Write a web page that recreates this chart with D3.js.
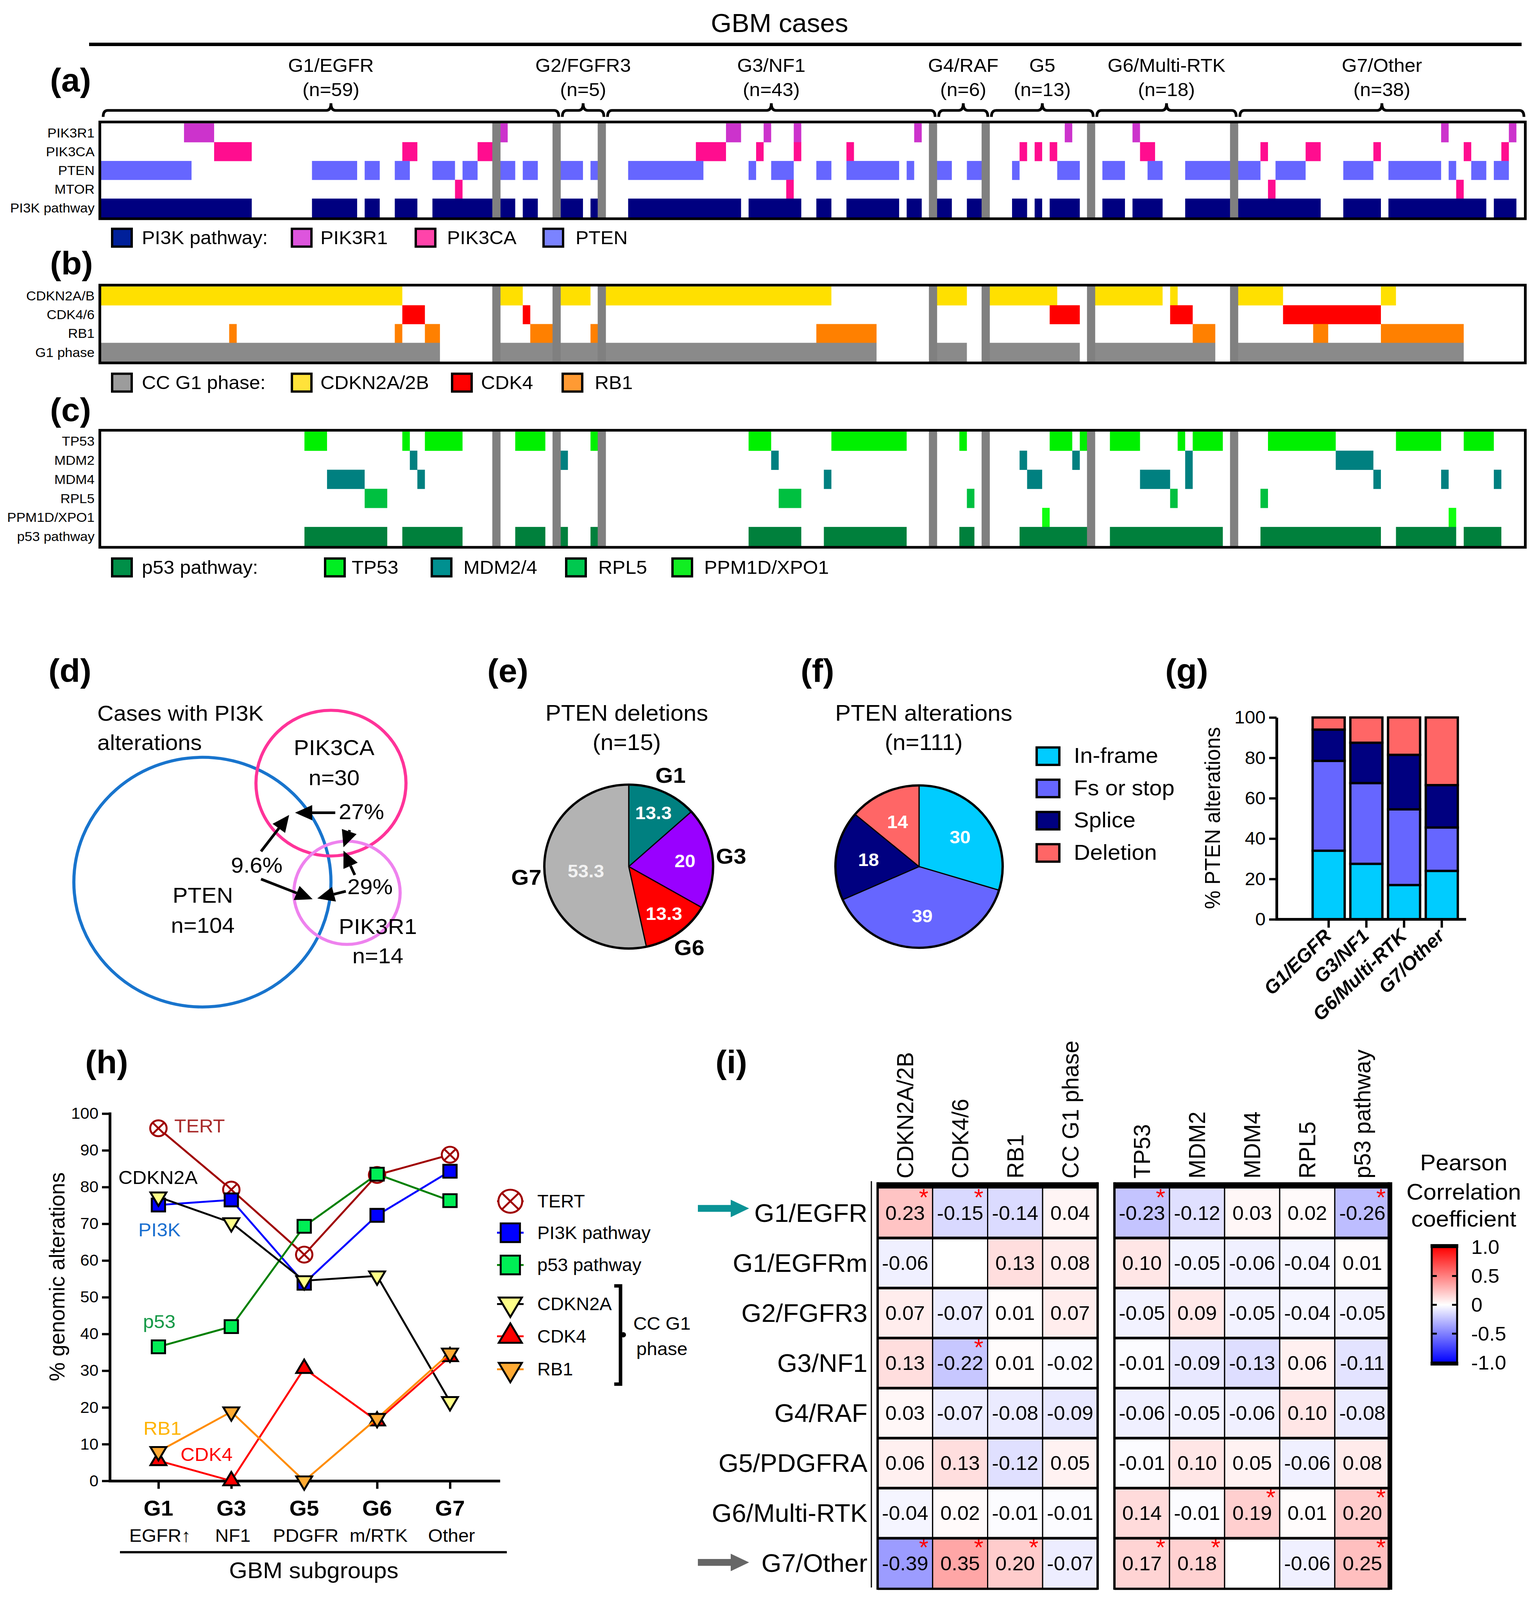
<!DOCTYPE html>
<html>
<head>
<meta charset="utf-8">
<script src="https://cdn.jsdelivr.net/npm/d3@7/dist/d3.min.js"></script>
<style>
  html, body { margin: 0; padding: 0; background: #fff; overflow: hidden; }
  #fig { display: block; width: 100vw; height: 100vh; }
  svg text { font-family: "Liberation Sans", Arial, Helvetica, sans-serif; }
</style>
</head>
<body>
<svg id="fig"></svg>
<script>
// ---------------- data ----------------

// (a-c) oncoprint: one column per case, grey separator columns between subgroups
const groupNames = ["G1/EGFR", "G2/FGFR3", "G3/NF1", "G4/RAF", "G5", "G6/Multi-RTK", "G7/Other"];
const groupN     = [59, 5, 43, 6, 13, 18, 38];
const sepCols    = [52, 60, 66, 110, 117, 131, 150];   // 52 splits G1/EGFR from G1/EGFRm
const nCols      = 189;

// altered cases, as [first, last] column runs
const pik3r1Runs = [[11,14],[53,53],[83,84],[88,88],[92,92],[108,108],[128,128],[137,137],[178,178],[187,187]];
const pik3caRuns = [[15,19],[40,41],[50,51],[79,82],[87,87],[92,92],[99,99],[122,122],[124,124],[126,126],[138,139],[154,154],[160,161],[169,169],[181,181],[186,186]];
const ptenRuns   = [[0,11],[28,33],[35,36],[39,40],[44,46],[48,49],[53,54],[56,57],[61,63],[65,65],[70,79],[86,86],[89,91],[95,96],[99,105],[107,107],[111,112],[115,116],[121,121],[127,129],[133,135],[139,140],[144,149],[151,153],[156,159],[165,168],[171,177],[179,179],[182,183],[185,186]];
const mtorRuns   = [[47,47],[91,91],[155,155],[180,180]];
const pi3kRuns   = [[0,19],[28,33],[35,36],[39,41],[44,51],[53,54],[56,57],[61,63],[65,65],[70,84],[86,92],[95,96],[99,105],[107,108],[111,112],[115,116],[121,122],[124,124],[126,129],[133,135],[137,140],[144,149],[151,161],[165,169],[171,183],[185,187]];

const cdkn2aRuns = [[0,39],[53,55],[61,64],[67,96],[111,114],[118,126],[132,140],[142,142],[151,156],[170,171]];
const cdk46Runs  = [[40,42],[56,56],[126,129],[142,144],[157,169]];
const rb1Runs    = [[17,17],[39,39],[43,44],[57,59],[65,65],[95,102],[145,147],[161,162],[170,180]];
const g1phRuns   = [[0,44],[53,102],[111,114],[118,129],[132,147],[151,180]];

const tp53Runs   = [[27,29],[40,40],[43,47],[55,58],[65,65],[86,88],[97,106],[114,114],[126,128],[130,130],[134,137],[143,143],[145,148],[155,163],[172,177],[181,184]];
const mdm2Runs   = [[41,41],[61,61],[89,89],[122,122],[129,129],[144,144],[164,168]];
const mdm4Runs   = [[30,34],[42,42],[96,96],[123,124],[138,141],[144,144],[169,169],[178,178],[185,185]];
const rpl5Runs   = [[35,37],[90,92],[115,115],[142,142],[154,154]];
const ppm1dRuns  = [[125,125],[179,179]];
const p53Runs    = [[27,37],[40,47],[55,58],[61,61],[65,65],[86,92],[96,106],[114,115],[122,130],[134,148],[154,169],[172,179],[181,185]];

// (d) Venn
const vennSets = ["PTEN", "PIK3CA", "PIK3R1"];
const vennN    = [104, 30, 14];
const vennPct  = ["27%", "29%", "9.6%"];

// (e) PTEN deletions by subgroup (%)
const delGroups = ["G1", "G3", "G6", "G7"];
const delPct    = [13.3, 20, 13.3, 53.3];

// (f) PTEN alteration types (%)
const altTypes = ["In-frame", "Fs or stop", "Splice", "Deletion"];
const altPct   = [30, 39, 18, 14];

// (g) % PTEN alterations per subgroup (stacked)
const gGroups  = ["G1/EGFR", "G3/NF1", "G6/Multi-RTK", "G7/Other"];
const gInFrame = [34, 27.5, 17, 24];
const gFsStop  = [44.5, 40, 37.5, 21.5];
const gSplice  = [15.5, 20, 27, 21];
const gDel     = [6, 12.5, 18.5, 33.5];

// (h) % genomic alterations
const hCats   = ["G1", "G3", "G5", "G6", "G7"];
const hSub    = ["EGFR\u2191", "NF1", "PDGFR", "m/RTK", "Other"];
const hTert   = [96, 79.3, 61.6, 83.3, 88.8];
const hPi3k   = [75.1, 76.5, 53.8, 72.3, 84.3];
const hP53    = [36.5, 42, 69.3, 83.5, 76.3];
const hCdkn2a = [77.3, 70.3, 54.5, 55.8, 21.6];
const hCdk4   = [5.5, 0, 30.6, 16.3, 33.8];
const hRb1    = [8, 18.8, 0, 17, 34.8];

// (i) Pearson correlation
const heatRows = ["G1/EGFR", "G1/EGFRm", "G2/FGFR3", "G3/NF1", "G4/RAF", "G5/PDGFRA", "G6/Multi-RTK", "G7/Other"];
const ccCols   = ["CDKN2A/2B", "CDK4/6", "RB1", "CC G1 phase"];
const p53Cols  = ["TP53", "MDM2", "MDM4", "RPL5", "p53 pathway"];
const ccR = [
  [0.23, -0.15, -0.14, 0.04],
  [-0.06, null, 0.13, 0.08],
  [0.07, -0.07, 0.01, 0.07],
  [0.13, -0.22, 0.01, -0.02],
  [0.03, -0.07, -0.08, -0.09],
  [0.06, 0.13, -0.12, 0.05],
  [-0.04, 0.02, -0.01, -0.01],
  [-0.39, 0.35, 0.20, -0.07]];
const ccSig = [[1,1,0,0],[0,0,0,0],[0,0,0,0],[0,1,0,0],[0,0,0,0],[0,0,0,0],[0,0,0,0],[1,1,1,0]];
const p53R = [
  [-0.23, -0.12, 0.03, 0.02, -0.26],
  [0.10, -0.05, -0.06, -0.04, 0.01],
  [-0.05, 0.09, -0.05, -0.04, -0.05],
  [-0.01, -0.09, -0.13, 0.06, -0.11],
  [-0.06, -0.05, -0.06, 0.10, -0.08],
  [-0.01, 0.10, 0.05, -0.06, 0.08],
  [0.14, -0.01, 0.19, 0.01, 0.20],
  [0.17, 0.18, null, -0.06, 0.25]];
const p53Sig = [[1,0,0,0,1],[0,0,0,0,0],[0,0,0,0,0],[0,0,0,0,0],[0,0,0,0,0],[0,0,0,0,0],[0,0,1,0,1],[1,1,0,0,1]];
const cbTicks = [1, 0.5, 0, -0.5, -1];

// ---------------- drawing ----------------
// figure frame is 3936 x 4217; stretched onto whatever viewport the page gets
const W = 3936, H = 4217;
const svg = d3.select("#fig").attr("viewBox", `0 0 ${W} ${H}`).attr("preserveAspectRatio", "none");
svg.append("rect").attr("width", W).attr("height", H).attr("fill", "#fff");

// plain hyphen for negatives, as in the figure
const minus = s => String(s).replace("\u2212", "-");

function label(g, x, y, s, size, o) {
  o = o || {};
  return g.append("text")
    .attr("x", x).attr("y", y)
    .attr("font-size", size)
    .attr("font-weight", o.bold ? "bold" : "normal")
    .attr("font-style", o.italic ? "italic" : "normal")
    .attr("text-anchor", o.anchor || "start")
    .attr("fill", o.fill || "#000")
    .text(s);
}

// panel letters
[["(a)",128,241],["(b)",128,724],["(c)",128,1110],["(d)",124,1798],["(e)",1247,1798],
 ["(f)",2049,1798],["(g)",2982,1798],["(h)",218,2829],["(i)",1831,2829]]
  .forEach(p => label(svg, p[1], p[2], p[0], 86, {bold: true}));

// ---- oncoprint header ----
const xc = d3.scaleLinear().domain([0, nCols]).range([259, 3900]);

let col = 0;
const groups = groupNames.map((name, i) => {
  const width = groupN[i] + (i === 0 ? 1 : 0);   // G1 holds the EGFR/EGFRm separator
  const g = {name, n: groupN[i], start: col, end: col + width - 1};
  col += width + 1;
  return g;
});

label(svg, 1995, 84, "GBM cases", 68, {anchor: "middle"});
svg.append("line").attr("x1", 228).attr("x2", 3894).attr("y1", 117).attr("y2", 117)
  .attr("stroke", "#000").attr("stroke-width", 9);

const gHead = svg.append("g");
groups.forEach(g => {
  const b1 = xc(g.start) + 5, b2 = Math.min(xc(g.end + 1) + 15, xc(nCols)), m = (b1 + b2) / 2;
  gHead.append("path")
    .attr("d", `M${b1},308 Q${b1},291 ${b1+12},291 L${m-12},291 Q${m},291 ${m},272 Q${m},291 ${m+12},291 L${b2-12},291 Q${b2},291 ${b2},308`)
    .attr("fill", "none").attr("stroke", "#000").attr("stroke-width", 7);
  label(gHead, m, 189, g.name, 50, {anchor: "middle"});
  label(gHead, m, 253, `(n=${g.n})`, 50, {anchor: "middle"});
});

function trackPanel(top, bottom, tracks) {
  const g = svg.append("g");
  const yb = d3.scaleBand().domain(tracks.map(t => t.row)).range([top, bottom]);
  tracks.forEach(t => {
    g.selectAll(null).data(t.runs).enter().append("rect")
      .attr("x", d => xc(d[0]))
      .attr("width", d => xc(d[1] + 1) - xc(d[0]))
      .attr("y", yb(t.row)).attr("height", yb.bandwidth() + 0.5)
      .attr("fill", t.color);
    label(g, 242, yb(t.row) + yb.bandwidth() / 2, t.row, 35, {anchor: "end"}).attr("dy", "0.35em");
  });
  g.selectAll(null).data(sepCols).enter().append("rect")
    .attr("x", d => xc(d + 0.5) - 10.5).attr("width", 21)
    .attr("y", top - 3).attr("height", bottom - top + 6)
    .attr("fill", "#808080");
  g.append("rect")
    .attr("x", xc(0) - 3.5).attr("y", top - 3.5)
    .attr("width", xc(nCols) - xc(0) + 7).attr("height", bottom - top + 7)
    .attr("fill", "none").attr("stroke", "#000").attr("stroke-width", 7);
}

function legendRow(y, items) {
  const g = svg.append("g");
  items.forEach(it => {
    g.append("rect").attr("x", it[2] + 3).attr("y", y + 3).attr("width", 50).attr("height", 47)
      .attr("fill", it[1]).attr("stroke", "#000").attr("stroke-width", 6);
    label(g, it[3], y + 43, it[0], 50);
  });
}

trackPanel(325, 573, [
  {row: "PIK3R1", runs: pik3r1Runs, color: "#cc33cc"},
  {row: "PIK3CA", runs: pik3caRuns, color: "#ff0d8f"},
  {row: "PTEN", runs: ptenRuns, color: "#6666ff"},
  {row: "MTOR", runs: mtorRuns, color: "#ff0d8f"},
  {row: "PI3K pathway", runs: pi3kRuns, color: "#000080"}]);
legendRow(600, [["PI3K pathway:", "#00209a", 284, 363], ["PIK3R1", "#dd55dd", 744, 820],
                ["PIK3CA", "#ff44aa", 1061, 1144], ["PTEN", "#7b83ff", 1388, 1473]]);

trackPanel(755, 953, [
  {row: "CDKN2A/B", runs: cdkn2aRuns, color: "#ffe000"},
  {row: "CDK4/6", runs: cdk46Runs, color: "#ff0000"},
  {row: "RB1", runs: rb1Runs, color: "#ff8000"},
  {row: "G1 phase", runs: g1phRuns, color: "#8a8a8a"}]);
legendRow(982, [["CC G1 phase:", "#9c9c9c", 284, 363], ["CDKN2A/2B", "#ffe23a", 744, 820],
                ["CDK4", "#ff0000", 1154, 1231], ["RB1", "#ff9a33", 1437, 1522]]);

trackPanel(1137.5, 1439, [
  {row: "TP53", runs: tp53Runs, color: "#00f000"},
  {row: "MDM2", runs: mdm2Runs, color: "#008080"},
  {row: "MDM4", runs: mdm4Runs, color: "#008080"},
  {row: "RPL5", runs: rpl5Runs, color: "#00c040"},
  {row: "PPM1D/XPO1", runs: ppm1dRuns, color: "#11ff11"},
  {row: "p53 pathway", runs: p53Runs, color: "#00803c"}]);
legendRow(1469, [["p53 pathway:", "#008f48", 284, 363], ["TP53", "#00ee22", 829, 900],
                 ["MDM2/4", "#009090", 1102, 1186], ["RPL5", "#00c84f", 1446, 1531],
                 ["PPM1D/XPO1", "#11ee22", 1718, 1802]]);

// ---- (d) Venn ----
const gD = svg.append("g");
const vennGeom = {
  PTEN:   {cx: 518, cy: 2325, r: 329, color: "#1874cd", nameXY: [519, 2379], nXY: [519, 2459]},
  PIK3CA: {cx: 847, cy: 2064, r: 192, color: "#ff3399", nameXY: [855, 1990], nXY: [855, 2069]},
  PIK3R1: {cx: 888, cy: 2353, r: 136, color: "#ee82ee", nameXY: [967, 2462], nXY: [967, 2539]}
};
label(gD, 249, 1899, "Cases with PI3K", 58);
label(gD, 249, 1977, "alterations", 58);
vennSets.forEach((s, i) => {
  const v = vennGeom[s];
  gD.append("circle").attr("cx", v.cx).attr("cy", v.cy).attr("r", v.r)
    .attr("fill", "none").attr("stroke", v.color).attr("stroke-width", 8);
  label(gD, v.nameXY[0], v.nameXY[1], s, 58, {anchor: "middle"});
  label(gD, v.nXY[0], v.nXY[1], `n=${vennN[i]}`, 58, {anchor: "middle"});
});
label(gD, 867, 2159, vennPct[0], 58);
label(gD, 889, 2357, vennPct[1], 58);
label(gD, 657, 2300, vennPct[2], 58, {anchor: "middle"});
const vennArrows = [[858,2142,755,2142],[895,2188,879,2233],[908,2306,879,2242],
                    [885,2349,812,2368],[668,2244,740,2148],[668,2317,800,2370]];
vennArrows.forEach(a => {
  const ang = Math.atan2(a[3] - a[1], a[2] - a[0]);
  const L = 44, hw = 20;
  const bx = a[2] - L * Math.cos(ang), by = a[3] - L * Math.sin(ang);
  gD.append("line").attr("x1", a[0]).attr("y1", a[1]).attr("x2", bx).attr("y2", by)
    .attr("stroke", "#000").attr("stroke-width", 7);
  const px = -Math.sin(ang) * hw, py = Math.cos(ang) * hw;
  gD.append("path")
    .attr("d", `M${a[2]},${a[3]} L${bx + px},${by + py} L${bx - px},${by - py} Z`)
    .attr("fill", "#000");
});

// ---- (e) PTEN deletions pie ----
const gE = svg.append("g").attr("transform", "translate(1609,2284)");
const rE = 216;
const arcsE = d3.pie().sort(null).value(d => d.v)(delGroups.map((g, i) => ({g, v: delPct[i]})));
const eColors = ["#008080", "#9900ff", "#ff0000", "#b3b3b3"];
const eLabR = [0.72, 0.67, 0.71, 0.51];
label(svg, 1604, 1899, "PTEN deletions", 60, {anchor: "middle"});
label(svg, 1604, 1977, "(n=15)", 60, {anchor: "middle"});
gE.selectAll(null).data(arcsE).enter().append("path")
  .attr("d", d3.arc().innerRadius(0).outerRadius(rE))
  .attr("fill", (d, i) => eColors[i]).attr("stroke", "#000").attr("stroke-width", 3);
gE.append("circle").attr("r", rE).attr("fill", "none").attr("stroke", "#000").attr("stroke-width", 6);
arcsE.forEach((d, i) => {
  const c = d3.arc().innerRadius(rE * eLabR[i]).outerRadius(rE * eLabR[i]).centroid(d);
  label(gE, c[0], c[1], d3.format(".3~")(d.data.v), 48, {bold: true, anchor: "middle",
        fill: i === 3 ? "#f2f2f2" : "#fff"}).attr("dy", "0.35em");
  const o = d3.arc().innerRadius(rE * 1.22).outerRadius(rE * 1.22).centroid(d);
  label(gE, o[0], o[1], d.data.g, 58, {bold: true, anchor: "middle"}).attr("dy", "0.35em");
});

// ---- (f) PTEN alterations pie ----
const gF = svg.append("g").attr("transform", "translate(2352,2284)");
const rF = 214;
const fColors = ["#00ccff", "#6666ff", "#000080", "#ff6666"];
const arcsF = d3.pie().sort(null).value(d => d.v)(altTypes.map((t, i) => ({t, v: altPct[i]})));
label(svg, 2364, 1899, "PTEN alterations", 60, {anchor: "middle"});
label(svg, 2364, 1977, "(n=111)", 60, {anchor: "middle"});
gF.selectAll(null).data(arcsF).enter().append("path")
  .attr("d", d3.arc().innerRadius(0).outerRadius(rF))
  .attr("fill", (d, i) => fColors[i]).attr("stroke", "#000").attr("stroke-width", 3);
gF.append("circle").attr("r", rF).attr("fill", "none").attr("stroke", "#000").attr("stroke-width", 6);
arcsF.forEach(d => {
  const c = d3.arc().innerRadius(rF * 0.61).outerRadius(rF * 0.61).centroid(d);
  label(gF, c[0], c[1], d.data.v, 48, {bold: true, anchor: "middle", fill: "#fff"}).attr("dy", "0.35em");
});
const gFl = svg.append("g");
altTypes.forEach((t, i) => {
  const y = 1967 + i * 85;
  gFl.append("rect").attr("x", 2653).attr("y", y + 3).attr("width", 58).attr("height", 46)
    .attr("fill", fColors[i]).attr("stroke", "#000").attr("stroke-width", 6);
  label(gFl, 2748, y + 44, t, 58);
});

// ---- (g) stacked bars ----
const gG = svg.append("g");
const gy = d3.scaleLinear().domain([0, 100]).range([2423, 1891]);
const gx = d3.scaleBand().domain(gGroups).range([3352, 3738]).paddingInner(0.15).paddingOuter(0.075);
const gTable = gGroups.map((g, i) => ({g, inFrame: gInFrame[i], fsStop: gFsStop[i], splice: gSplice[i], del: gDel[i]}));
const stackG = d3.stack().keys(["inFrame", "fsStop", "splice", "del"])(gTable);
stackG.forEach((layer, k) => {
  gG.selectAll(null).data(layer).enter().append("rect")
    .attr("x", d => gx(d.data.g)).attr("width", gx.bandwidth())
    .attr("y", d => gy(d[1])).attr("height", d => gy(d[0]) - gy(d[1]))
    .attr("fill", fColors[k]).attr("stroke", "#000").attr("stroke-width", 6);
});
const yAxG = gG.append("g").attr("transform", "translate(3267,0)")
  .call(d3.axisLeft(gy).tickValues([0, 20, 40, 60, 80, 100]).tickSize(19).tickSizeOuter(0).tickPadding(9));
yAxG.select(".domain").attr("stroke-width", 7);
yAxG.selectAll(".tick line").attr("stroke-width", 6);
yAxG.selectAll(".tick text").attr("font-size", 48);
gG.append("line").attr("x1", 3264).attr("x2", 3752).attr("y1", gy(0)).attr("y2", gy(0))
  .attr("stroke", "#000").attr("stroke-width", 7);
gGroups.forEach(g => {
  const cx = gx(g) + gx.bandwidth() / 2;
  gG.append("line").attr("x1", cx).attr("x2", cx).attr("y1", gy(0)).attr("y2", gy(0) + 22)
    .attr("stroke", "#000").attr("stroke-width", 6);
  label(gG, cx + 10, 2470, g, 50, {bold: true, italic: true, anchor: "end"})
    .attr("transform", `rotate(-45,${cx + 10},2470)`);
});
label(gG, 3103, 2156, "% PTEN alterations", 55, {anchor: "middle"})
  .attr("transform", "rotate(-90,3103,2156)").attr("dy", "0.35em");

// ---- (h) line chart ----
const gH = svg.append("g");
const hx = d3.scalePoint().domain(hCats).range([281, 1276]).padding(0.667);
const hy = d3.scaleLinear().domain([0, 100]).range([3903, 2935]);
const yAxH = gH.append("g").attr("transform", "translate(281,0)")
  .call(d3.axisLeft(hy).tickValues(d3.range(0, 101, 10)).tickSize(20).tickSizeOuter(0).tickPadding(9));
const xAxH = gH.append("g").attr("transform", "translate(0,3903)")
  .call(d3.axisBottom(hx).tickSize(21).tickSizeOuter(0).tickFormat(""));
[yAxH, xAxH].forEach(a => {
  a.select(".domain").attr("stroke-width", 7).attr("stroke-linecap", "square");
  a.selectAll(".tick line").attr("stroke-width", 6);
  a.selectAll(".tick text").attr("font-size", 42);
});
label(gH, 145, 3365, "% genomic alterations", 56, {anchor: "middle"})
  .attr("transform", "rotate(-90,145,3365)").attr("dy", "0.35em");

const series = [
  {name: "TERT", vals: hTert, line: "#a00000", mark: "tert"},
  {name: "PI3K pathway", vals: hPi3k, line: "#0000ff", mark: "square", fill: "#0000ff"},
  {name: "p53 pathway", vals: hP53, line: "#008000", mark: "square", fill: "#00ee55"},
  {name: "CDKN2A", vals: hCdkn2a, line: "#000000", mark: "down", fill: "#ffff88"},
  {name: "CDK4", vals: hCdk4, line: "#ff0000", mark: "up", fill: "#ff0000"},
  {name: "RB1", vals: hRb1, line: "#ff8c00", mark: "down", fill: "#ffaa33"}
];

function drawMark(g, s, x, y, k) {
  if (s.mark === "tert") {
    const r = 21 * k, q = r * 0.7;
    g.append("circle").attr("cx", x).attr("cy", y).attr("r", r)
      .attr("fill", "#fff").attr("stroke", s.line).attr("stroke-width", 5);
    g.append("path").attr("d", `M${x-q},${y-q}L${x+q},${y+q}M${x-q},${y+q}L${x+q},${y-q}`)
      .attr("stroke", s.line).attr("stroke-width", 5);
  } else if (s.mark === "square") {
    g.append("path").attr("d", d3.symbol(d3.symbolSquare, 1156 * k * k)())
      .attr("transform", `translate(${x},${y})`)
      .attr("fill", s.fill).attr("stroke", "#000").attr("stroke-width", 5);
  } else {
    g.append("path").attr("d", d3.symbol(d3.symbolTriangle, 720 * k * k)())
      .attr("transform", `translate(${x},${y})` + (s.mark === "down" ? " rotate(180)" : ""))
      .attr("fill", s.fill).attr("stroke", "#000").attr("stroke-width", 5);
  }
}

const lineH = d3.line().x((d, i) => hx(hCats[i])).y(d => hy(d));
series.forEach(s => {
  gH.append("path").attr("d", lineH(s.vals)).attr("fill", "none")
    .attr("stroke", s.line).attr("stroke-width", 5);
  s.vals.forEach((v, i) => drawMark(gH, s, hx(hCats[i]), hy(v), 1));
});

// in-plot series names
[["TERT", 446, 2985, "#a82a2a"], ["CDKN2A", 303, 3121, "#000"], ["PI3K", 354, 3259, "#1a6fd0"],
 ["p53", 366, 3500, "#159947"], ["RB1", 367, 3781, "#ffb300"], ["CDK4", 462, 3851, "#ff0000"]]
  .forEach(t => label(gH, t[1], t[2], t[0], 50, {fill: t[3]}));

// legend
const hLegY = [3166, 3249, 3334, 3437, 3522, 3609];
series.forEach((s, i) => {
  const y = hLegY[i];
  gH.append("line").attr("x1", 1272).attr("x2", 1340).attr("y1", y).attr("y2", y)
    .attr("stroke", s.line).attr("stroke-width", 5);
  drawMark(gH, s, 1306, y, 1.45);
  label(gH, 1375, y, s.name, 47).attr("dy", "0.35em");
});
gH.append("path").attr("d", "M1572,3389 H1588 V3648 H1572")
  .attr("fill", "none").attr("stroke", "#000").attr("stroke-width", 9);
gH.append("circle").attr("cx", 1595).attr("cy", 3518).attr("r", 7).attr("fill", "#000");
label(gH, 1694, 3505, "CC G1", 48, {anchor: "middle"});
label(gH, 1694, 3571, "phase", 48, {anchor: "middle"});

hCats.forEach((c, i) => {
  label(gH, hx(c), 3995, c, 57, {bold: true, anchor: "middle"});
  label(gH, hx(c) + 4, 4064, hSub[i], 48, {anchor: "middle"});
});
gH.append("line").attr("x1", 307).attr("x2", 1297).attr("y1", 4091).attr("y2", 4091)
  .attr("stroke", "#000").attr("stroke-width", 6);
label(gH, 803, 4159, "GBM subgroups", 60, {anchor: "middle"});

// ---- (i) heatmap ----
const gI = svg.append("g");
const color = d3.scaleLinear().domain([-1, 0, 1]).range(["#0000ff", "#ffffff", "#ff0000"]);
const yr = d3.scaleBand().domain(heatRows).range([3131, 4186]);
const fmt = v => minus(d3.format(".2f")(v));

function heatBlock(cols, vals, sig, x0, x1, rightW) {
  const xb = d3.scaleBand().domain(cols).range([x0, x1]);
  heatRows.forEach((r, i) => {
    cols.forEach((c, j) => {
      const v = vals[i][j];
      gI.append("rect").attr("x", xb(c)).attr("y", yr(r))
        .attr("width", xb.bandwidth()).attr("height", yr.bandwidth())
        .attr("fill", v === null ? "#fff" : color(v)).attr("stroke", "#000").attr("stroke-width", 3);
      if (v !== null)
        label(gI, xb(c) + xb.bandwidth() / 2, yr(r) + yr.bandwidth() / 2, fmt(v), 52, {anchor: "middle"})
          .attr("dy", "0.35em");
      if (sig[i][j])
        label(gI, xb(c) + xb.bandwidth() - 23, yr(r) + 46, "*", 62, {anchor: "middle", fill: "#ff0000"});
    });
    if (i > 0)
      gI.append("line").attr("x1", x0).attr("x2", x1).attr("y1", yr(r)).attr("y2", yr(r))
        .attr("stroke", "#000").attr("stroke-width", 7);
  });
  cols.forEach(c => {
    const cx = xb(c) + xb.bandwidth() / 2;
    label(gI, cx, 3106, c, 60).attr("transform", `rotate(-90,${cx},3106)`).attr("dy", "0.35em");
  });
  gI.append("rect").attr("x", x0).attr("y", 3116).attr("width", x1 - x0).attr("height", 15).attr("fill", "#000");
  gI.append("line").attr("x1", x0).attr("x2", x1).attr("y1", 4188).attr("y2", 4188)
    .attr("stroke", "#000").attr("stroke-width", 5);
  gI.append("line").attr("x1", x0).attr("x2", x0).attr("y1", 3116).attr("y2", 4190)
    .attr("stroke", "#000").attr("stroke-width", 6);
  gI.append("line").attr("x1", x1).attr("x2", x1).attr("y1", 3116).attr("y2", 4190)
    .attr("stroke", "#000").attr("stroke-width", rightW);
}
heatBlock(ccCols, ccR, ccSig, 2246, 2809, 6);
heatBlock(p53Cols, p53R, p53Sig, 2852, 3557, 12);
gI.append("line").attr("x1", 2230).attr("x2", 2230).attr("y1", 3113).attr("y2", 4184)
  .attr("stroke", "#000").attr("stroke-width", 3);
heatRows.forEach(r => label(gI, 2220, yr(r) + yr.bandwidth() / 2, r, 66, {anchor: "end"}).attr("dy", "0.35em"));

// row pointers
gI.append("path").attr("d", "M1786,3176 H1870 V3162 L1917,3185 L1870,3208 V3194 H1786 Z").attr("fill", "#0a9396");
gI.append("path").attr("d", "M1786,4109 H1870 V4095 L1917,4118 L1870,4141 V4127 H1786 Z").attr("fill", "#666");

// colour bar
const cb = d3.scaleLinear().domain([-1, 1]).range([3591, 3287]);
const grad = svg.append("defs").append("linearGradient").attr("id", "cbGrad")
  .attr("x1", 0).attr("y1", 0).attr("x2", 0).attr("y2", 1);
d3.range(0, 1.001, 0.125).forEach(t => grad.append("stop").attr("offset", t).attr("stop-color", color(1 - 2 * t)));
gI.append("rect").attr("x", 3664).attr("y", cb(1)).attr("width", 65).attr("height", cb(-1) - cb(1))
  .attr("fill", "url(#cbGrad)").attr("stroke", "#000").attr("stroke-width", 5);
gI.append("rect").attr("x", 3661).attr("y", cb(1) - 8).attr("width", 71).attr("height", 10).attr("fill", "#000");
gI.append("rect").attr("x", 3661).attr("y", cb(-1) - 2).attr("width", 71).attr("height", 10).attr("fill", "#000");
cbTicks.forEach(t => {
  if (Math.abs(t) < 1) {
    gI.append("line").attr("x1", 3664).attr("x2", 3677).attr("y1", cb(t)).attr("y2", cb(t)).attr("stroke", "#000").attr("stroke-width", 5);
    gI.append("line").attr("x1", 3716).attr("x2", 3729).attr("y1", cb(t)).attr("y2", cb(t)).attr("stroke", "#000").attr("stroke-width", 5);
  }
  label(gI, 3765, cb(t), t === 0 ? "0" : minus(d3.format(".1f")(t)), 52).attr("dy", "0.35em");
});
label(gI, 3746, 3085, "Pearson", 60, {anchor: "middle"});
label(gI, 3746, 3162, "Correlation", 60, {anchor: "middle"});
label(gI, 3746, 3233, "coefficient", 60, {anchor: "middle"});
</script>
</body>
</html>
